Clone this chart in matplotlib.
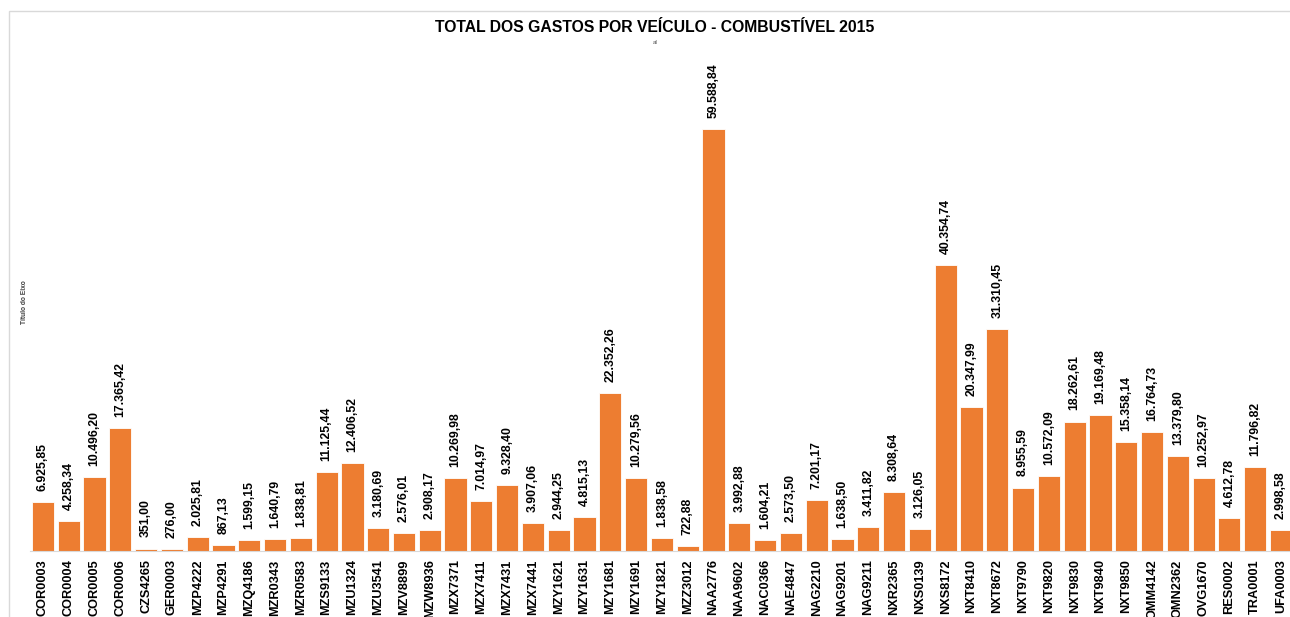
import matplotlib.pyplot as plt
import matplotlib.patches as patches

veiculos = ["COR0003", "COR0004", "COR0005", "COR0006", "CZS4265", "GER0003", "MZP4222",
            "MZP4291", "MZQ4186", "MZR0343", "MZR0583", "MZS9133", "MZU1324", "MZU3541",
            "MZV8899", "MZW8936", "MZX7371", "MZX7411", "MZX7431", "MZX7441", "MZY1621",
            "MZY1631", "MZY1681", "MZY1691", "MZY1821", "MZZ3012", "NAA2776", "NAA9602",
            "NAC0366", "NAE4847", "NAG2210", "NAG9201", "NAG9211", "NXR2365", "NXS0139",
            "NXS8172", "NXT8410", "NXT8672", "NXT9790", "NXT9820", "NXT9830", "NXT9840",
            "NXT9850", "OMM4142", "OMN2362", "OVG1670", "RES0002", "TRA0001", "UFA0003"]

gastos = [6925.85, 4258.34, 10496.20, 17365.42, 351.00, 276.00, 2025.81,
          867.13, 1599.15, 1640.79, 1838.81, 11125.44, 12406.52, 3180.69,
          2576.01, 2908.17, 10269.98, 7014.97, 9328.40, 3907.06, 2944.25,
          4815.13, 22352.26, 10279.56, 1838.58, 722.88, 59588.84, 3992.88,
          1604.21, 2573.50, 7201.17, 1638.50, 3411.82, 8308.64, 3126.05,
          40354.74, 20347.99, 31310.45, 8955.59, 10572.09, 18262.61, 19169.48,
          15358.14, 16764.73, 13379.80, 10252.97, 4612.78, 11796.82, 2998.58]


def fmt_br(v):
    s = "{:,.2f}".format(v)
    return s.replace(",", "X").replace(".", ",").replace("X", ".")


plt.rcParams['font.family'] = ['Liberation Sans', 'DejaVu Sans']

fig = plt.figure(figsize=(12.9, 6.17), dpi=100)

# chart area border (light gray, like excel)
fig.add_artist(patches.Rectangle((9 / 1290, -0.1), 1.2, (617 - 11) / 617 + 0.1,
                                 transform=fig.transFigure, fill=False,
                                 edgecolor='#d9d9d9', linewidth=1))

ax = fig.add_axes([30 / 1290, 66 / 617, 1260 / 1290, 496 / 617])

x = list(range(len(veiculos)))
ax.bar(x, gastos, width=0.86, color='#ED7D31', edgecolor='white', linewidth=0.6)

for xi, v in zip(x, gastos):
    ax.annotate(fmt_br(v), (xi, v), xytext=(0, 8), textcoords='offset points',
                rotation=90, ha='center', va='bottom', fontsize=8.8,
                fontweight='bold', color='#000000')

ax.set_xlim(-0.5, 48.35)
ax.set_ylim(0, 70000)
ax.set_xticks(x)
ax.set_xticklabels(veiculos, rotation=90, fontsize=9.2, fontweight='bold')
ax.tick_params(axis='x', length=0, pad=6)
ax.set_yticks([])
for side in ['top', 'right', 'left']:
    ax.spines[side].set_visible(False)
ax.spines['bottom'].set_color('#d9d9d9')

fig.text(655 / 1290, 1 - 28 / 617, "TOTAL DOS GASTOS POR VEÍCULO - COMBUSTÍVEL 2015",
         ha='center', va='center', fontsize=11.3, fontweight='bold')
fig.text(655 / 1290, 1 - 43 / 617, "al", ha='center', va='center', fontsize=4.5,
         color='#595959')
fig.text(25 / 1290, 1 - 302 / 617, "Título do Eixo", rotation=90, ha='center',
         va='center', fontsize=4.8, fontweight='bold', color='#404040')

fig.savefig("out.png", dpi=100)
